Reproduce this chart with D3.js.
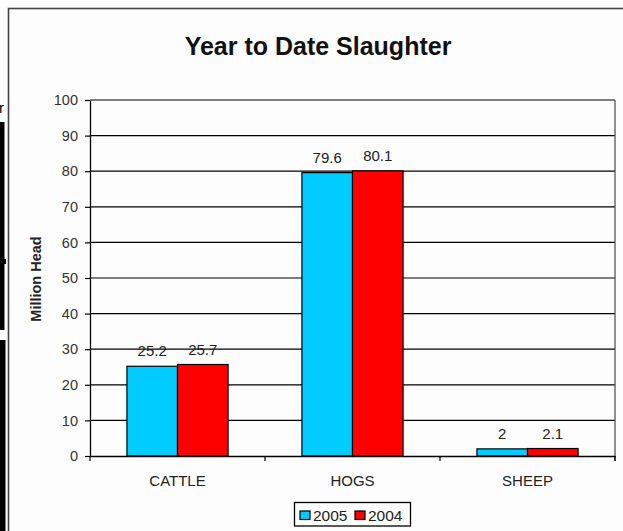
<!DOCTYPE html>
<html><head><meta charset="utf-8">
<script src="https://cdn.jsdelivr.net/npm/d3@7"></script>
<style>html,body{margin:0;padding:0;background:#fff;}svg{display:block;}</style>
</head><body>
<script>
const categories = ["CATTLE", "HOGS", "SHEEP"];
const seriesNames = ["2005", "2004"];
const values2005 = [25.2, 79.6, 2];
const values2004 = [25.7, 80.1, 2.1];
const yTicks = [0, 10, 20, 30, 40, 50, 60, 70, 80, 90, 100];
const colors = ["#00CCFF", "#FF0000"];

const W = 623, H = 531;
const FONT = "'Liberation Sans', Arial, sans-serif";
const svg = d3.select("body").append("svg").attr("width", W).attr("height", H)
  .style("font-family", FONT);

// left-edge artifacts from the scanned page
svg.append("text").attr("x", -1).attr("y", 113).attr("font-size", 15).attr("fill", "#000").text("r");
svg.append("rect").attr("x", 0).attr("y", 122).attr("width", 4.5).attr("height", 208).attr("fill", "#000");
svg.append("rect").attr("x", 4).attr("y", 259).attr("width", 2).attr("height", 5).attr("fill", "#000");
svg.append("rect").attr("x", 0).attr("y", 340).attr("width", 5.5).attr("height", 191).attr("fill", "#000");

// chart frame
svg.append("rect").attr("x", 8.5).attr("y", 8.5).attr("width", 640).attr("height", 560)
  .attr("fill", "#fdfdfd").attr("stroke", "#444").attr("stroke-width", 1.6);

const plot = {left: 90, right: 615, top: 100, bottom: 456};

const x = d3.scaleBand().domain(categories).range([plot.left, plot.right]).paddingInner(0).paddingOuter(0);
const x1 = d3.scaleBand().domain(seriesNames).range([0, x.bandwidth()]).paddingInner(0).paddingOuter(0.73);
const y = d3.scaleLinear().domain([0, 100]).range([plot.bottom, plot.top]);

// gridlines
svg.append("g").selectAll("line").data(yTicks.filter(d => d > 0)).join("line")
  .attr("x1", plot.left).attr("x2", plot.right)
  .attr("y1", d => y(d)).attr("y2", d => y(d))
  .attr("stroke", "#000").attr("stroke-width", 1.2);
// right border of plot
svg.append("line").attr("x1", plot.right).attr("x2", plot.right)
  .attr("y1", plot.top).attr("y2", plot.bottom + 5).attr("stroke", "#555").attr("stroke-width", 1.3);

// bars
const data = categories.map((c, i) => ({cat: c, vals: [values2005[i], values2004[i]]}));
const groups = svg.append("g").selectAll("g").data(data).join("g")
  .attr("transform", d => `translate(${x(d.cat)},0)`);
groups.selectAll("rect").data(d => d.vals.map((v, j) => ({v, s: seriesNames[j], j}))).join("rect")
  .attr("x", d => x1(d.s)).attr("width", x1.bandwidth())
  .attr("y", d => y(d.v)).attr("height", d => y(0) - y(d.v))
  .attr("fill", d => colors[d.j]).attr("stroke", "#000").attr("stroke-width", 1.2);
groups.selectAll("text").data(d => d.vals.map((v, j) => ({v, s: seriesNames[j], j}))).join("text")
  .attr("x", d => x1(d.s) + x1.bandwidth() / 2).attr("y", d => y(d.v) - 10)
  .attr("text-anchor", "middle").attr("font-size", 15).attr("fill", "#222")
  .text(d => d.v);

// y axis
const yAxis = svg.append("g").attr("transform", `translate(${plot.left},0)`)
  .call(d3.axisLeft(y).tickValues(yTicks).tickSize(5).tickSizeOuter(0).tickPadding(7));
yAxis.select(".domain").attr("stroke", "#000").attr("stroke-width", 1.3);
yAxis.selectAll(".tick line").attr("stroke", "#000").attr("stroke-width", 1.2);
yAxis.selectAll(".tick text").attr("font-size", 14.5).attr("fill", "#333")
  .attr("font-family", FONT);

// x axis
const xAxis = svg.append("g").attr("transform", `translate(0,${plot.bottom})`)
  .call(d3.axisBottom(x).tickSize(0).tickPadding(19));
xAxis.select(".domain").attr("stroke", "#000").attr("stroke-width", 1.3);
xAxis.selectAll(".tick text").attr("font-size", 15).attr("fill", "#222")
  .attr("font-family", FONT);
svg.append("g").selectAll("line").data([plot.left, ...categories.map(c => x(c) + x.bandwidth())]).join("line")
  .attr("x1", d => d).attr("x2", d => d).attr("y1", plot.bottom).attr("y2", plot.bottom + 5)
  .attr("stroke", "#000").attr("stroke-width", 1.2);

// title
svg.append("text").attr("x", 318).attr("y", 54.5).attr("text-anchor", "middle")
  .attr("font-size", 25).attr("font-weight", "bold").attr("fill", "#111")
  .text("Year to Date Slaughter");

// y axis title
svg.append("text").attr("transform", "translate(41,279) rotate(-90)").attr("text-anchor", "middle")
  .attr("font-size", 14.5).attr("font-weight", "bold").attr("fill", "#222").text("Million Head");

// legend
const lg = svg.append("g").attr("transform", "translate(294.5,502.5)");
lg.append("rect").attr("width", 116).attr("height", 23.5).attr("fill", "#fff").attr("stroke", "#000").attr("stroke-width", 1.3);
const items = lg.selectAll("g").data(seriesNames).join("g")
  .attr("transform", (d, i) => `translate(${5.5 + i * 55},0)`);
items.append("rect").attr("x", 0).attr("y", 8.5).attr("width", 10).attr("height", 8.5)
  .attr("fill", (d, i) => colors[i]).attr("stroke", "#000").attr("stroke-width", 1.2);
items.append("text").attr("x", 13).attr("y", 18).attr("font-size", 15.5).attr("fill", "#222").text(d => d);
</script>
</body></html>
